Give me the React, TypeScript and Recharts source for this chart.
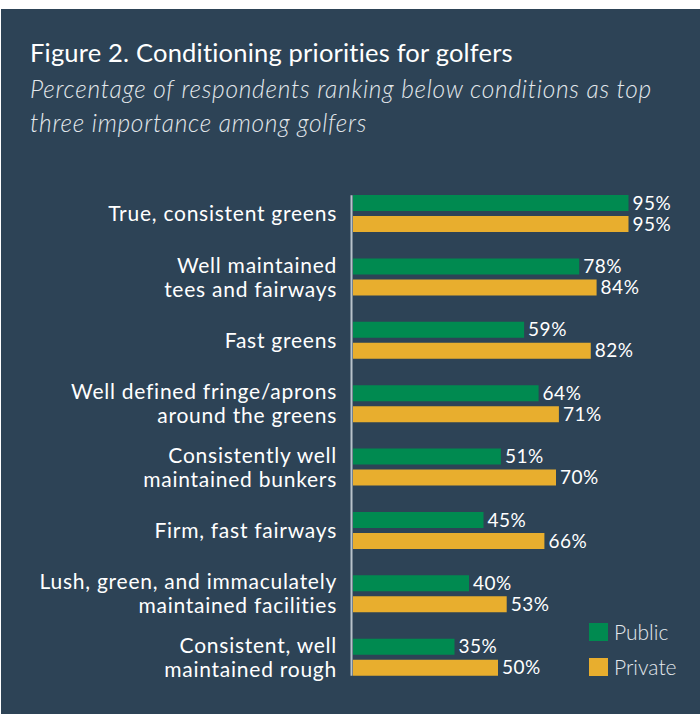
import React from 'react';
import { BarChart, Bar, XAxis, YAxis, LabelList, ReferenceLine } from 'recharts';

const categories = [
  'True, consistent greens',
  'Well maintained\ntees and fairways',
  'Fast greens',
  'Well defined fringe/aprons\naround the greens',
  'Consistently well\nmaintained bunkers',
  'Firm, fast fairways',
  'Lush, green, and immaculately\nmaintained facilities',
  'Consistent, well\nmaintained rough',
];
const publicValues = [95, 78, 59, 64, 51, 45, 40, 35];
const privateValues = [95, 84, 82, 71, 70, 66, 53, 50];
const seriesNames = ['Public', 'Private'];
const seriesColors = ['#008a50', '#e8ae2e'];
const titleText = 'Figure 2. Conditioning priorities for golfers';
const subtitleLines = [
  'Percentage of respondents ranking below conditions as top',
  'three importance among golfers',
];

const data = categories.map((name, i) => ({
  name,
  public: publicValues[i],
  private: privateValues[i],
}));

const FONT = 'Lato, "Open Sans", sans-serif';
const BG = '#2d4356';
const BAR_SIZE = 16;
const BAR_GAP = 5;
const W = 699;
const H = 705;

const CategoryTick = (props: any) => {
  const { x, y, payload } = props;
  const lines = String(payload.value).split('\n');
  const lh = 24;
  const start = y - ((lines.length - 1) * lh) / 2;
  return (
    <text
      x={x}
      y={start}
      textAnchor="end"
      fill="#ffffff"
      fontSize={21}
      fontFamily={FONT}
      letterSpacing={0.75}
    >
      {lines.map((l, i) => (
        <tspan key={i} x={x} y={start + i * lh} dy="0.36em">
          {l}
        </tspan>
      ))}
    </text>
  );
};

const AxisShape = (props: any) => {
  const { x1, y1, x2, y2 } = props;
  const top = Math.min(y1, y2);
  const bottom = Math.max(y1, y2);
  const band = (bottom - top) / categories.length;
  const inset = (band - (2 * BAR_SIZE + BAR_GAP)) / 2;
  return (
    <line
      x1={x1 - 1.5}
      x2={x2 - 1.5}
      y1={top + inset}
      y2={bottom - inset}
      stroke="#b9c3cb"
      strokeWidth={2}
    />
  );
};

const fmt = (v: any) => `${v}%`;

export default function App() {
  return (
    <div
      style={{
        position: 'absolute',
        left: 1,
        top: 9,
        width: W,
        height: H,
        background: BG,
        fontFamily: FONT,
        overflow: 'hidden',
      }}
    >
      <div
        style={{
          position: 'absolute',
          left: 29,
          top: 27,
          color: '#ffffff',
          fontSize: 25.5,
          letterSpacing: 0.2,
          lineHeight: '32px',
          whiteSpace: 'nowrap',
        }}
      >
        {titleText}
      </div>
      <div
        style={{
          position: 'absolute',
          left: 29,
          top: 63,
          color: '#e3e8ec',
          fontSize: 24.5,
          fontStyle: 'italic',
          fontWeight: 300,
          letterSpacing: 0.72,
          lineHeight: '34px',
          whiteSpace: 'nowrap',
        }}
      >
        {subtitleLines.map((l, i) => (
          <div key={i}>{l}</div>
        ))}
      </div>
      <div style={{ position: 'absolute', left: 0, top: 0 }}>
        <BarChart
          width={W}
          height={H}
          data={data}
          layout="vertical"
          margin={{ top: 173, right: 57, bottom: 25, left: 0 }}
          barGap={BAR_GAP}
          barSize={BAR_SIZE}
          style={{ fontFamily: FONT }}
        >
          <XAxis type="number" domain={[0, 100]} hide />
          <YAxis
            type="category"
            dataKey="name"
            width={352}
            axisLine={false}
            tickLine={false}
            tickSize={0}
            tickMargin={16}
            interval={0}
            tick={<CategoryTick />}
          />
          <Bar
            dataKey="public"
            name={seriesNames[0]}
            fill={seriesColors[0]}
            isAnimationActive={false}
          >
            <LabelList
              dataKey="public"
              position="right"
              offset={4}
              fill="#ffffff"
              fontSize={19}
              fontFamily={FONT}
              letterSpacing={0.5}
              formatter={fmt}
            />
          </Bar>
          <Bar
            dataKey="private"
            name={seriesNames[1]}
            fill={seriesColors[1]}
            isAnimationActive={false}
          >
            <LabelList
              dataKey="private"
              position="right"
              offset={4}
              fill="#ffffff"
              fontSize={19}
              fontFamily={FONT}
              letterSpacing={0.5}
              formatter={fmt}
            />
          </Bar>
          <ReferenceLine x={0} shape={<AxisShape />} />
        </BarChart>
      </div>
      <div style={{ position: 'absolute', left: 588, top: 605 }}>
        {seriesNames.map((n, i) => (
          <div
            key={n}
            style={{ display: 'flex', alignItems: 'center', height: 35, color: '#e3e8ec' }}
          >
            <div style={{ width: 19, height: 18, background: seriesColors[i], marginRight: 6 }} />
            <span style={{ fontSize: 21, fontWeight: 300 }}>{n}</span>
          </div>
        ))}
      </div>
    </div>
  );
}
